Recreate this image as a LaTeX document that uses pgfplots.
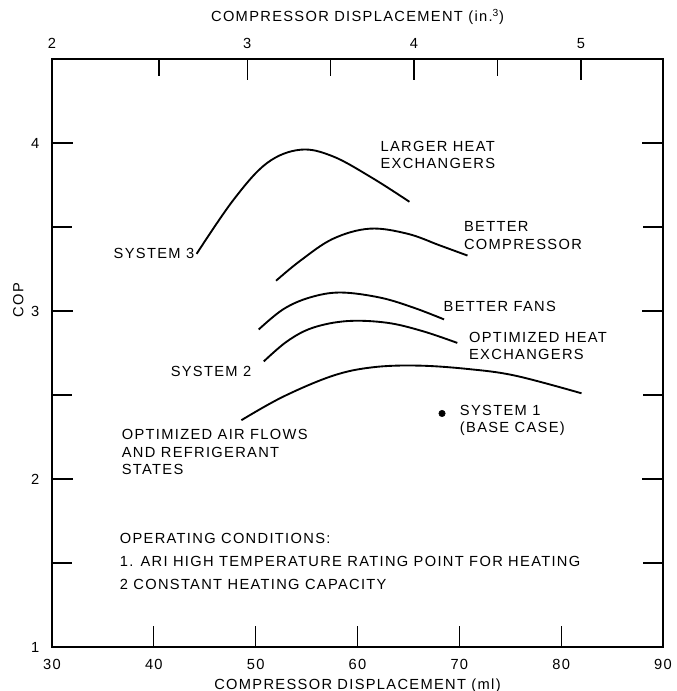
\documentclass[border=0pt]{standalone}
\usepackage{fontspec}
\setmainfont[LetterSpace=9]{Liberation Sans}
\usepackage{pgfplots}
\pgfplotsset{compat=1.18}
\begin{document}
\begin{tikzpicture}[font=\fontsize{11}{13}\selectfont]
\begin{axis}[
  scale only axis, width=458.25pt, height=441pt,
  xmin=30, xmax=90, ymin=1, ymax=4.5,
  axis line style={line width=1.2pt},
  xtick={30,40,50,60,70,80,90},
  xtick pos=bottom,
  ytick={1,2,3,4}, minor ytick={1.5,2.5,3.5,4},
  ytick pos=both, yticklabel pos=left,
  tick align=inside,
  major tick length=16pt, minor tick length=15pt,
  tick style={line width=0.9pt, black},
  /pgf/number format/assume math mode=true,
  xticklabel style={yshift=-6pt},
  yticklabel style={xshift=-6pt},
  xlabel={COMPRESSOR DISPLACEMENT (ml)},
  xlabel style={at={(axis description cs:0.5,-0.066)}, anchor=center},
  ylabel={COP},
  ylabel style={at={(axis description cs:-0.055,0.59)}, anchor=center},
  clip=false,
]
% System 3 -> larger heat exchangers
\addplot[black, line width=1.4pt, smooth, tension=0.6] coordinates {
 (44.2,3.34) (47.8,3.66) (51.1,3.88) (54.4,3.96) (57.6,3.92) (61.5,3.79) (65.1,3.65)};
% Better compressor
\addplot[black, line width=1.4pt, smooth, tension=0.6] coordinates {
 (52.0,3.18) (54.4,3.30) (57.6,3.43) (61.2,3.49) (64.9,3.46) (68.1,3.39) (70.8,3.33)};
% Better fans
\addplot[black, line width=1.4pt, smooth, tension=0.6] coordinates {
 (50.3,2.89) (52.7,3.01) (55.3,3.08) (58.3,3.11) (62.2,3.08) (65.5,3.02) (68.5,2.95)};
% Optimized heat exchangers (System 2)
\addplot[black, line width=1.4pt, smooth, tension=0.6] coordinates {
 (50.8,2.70) (53.1,2.82) (55.6,2.90) (59.0,2.94) (62.9,2.93) (66.4,2.88) (69.8,2.81)};
% Optimized air flows and refrigerant states
\addplot[black, line width=1.4pt, smooth, tension=0.6] coordinates {
 (48.6,2.35) (52.7,2.49) (57.6,2.615) (61.5,2.665) (65.9,2.675) (70.8,2.655) (75.5,2.615) (82.0,2.51)};
% System 1 (base case)
\addplot[only marks, mark=*, mark size=2.4pt, black] coordinates {(68.3,2.39)};

\node[anchor=west, align=left] at (axis cs:61.8,3.93) {LARGER HEAT\\EXCHANGERS};
\node[anchor=west, align=left] at (axis cs:70.0,3.45) {BETTER\\COMPRESSOR};
\node[anchor=west, align=left] at (axis cs:68.0,3.03) {BETTER FANS};
\node[anchor=west, align=left] at (axis cs:70.5,2.79) {OPTIMIZED HEAT\\EXCHANGERS};
\node[anchor=west, align=left] at (axis cs:35.6,3.34) {SYSTEM 3};
\node[anchor=west, align=left] at (axis cs:41.2,2.64) {SYSTEM 2};
\node[anchor=west, align=left] at (axis cs:36.4,2.16) {OPTIMIZED AIR FLOWS\\AND REFRIGERANT\\STATES};
\node[anchor=west, align=left] at (axis cs:69.6,2.35) {SYSTEM 1\\(BASE CASE)};
\node[anchor=west, align=left] at (axis cs:36.2,1.51) {OPERATING CONDITIONS:\\[4pt]1. ARI HIGH TEMPERATURE RATING POINT FOR HEATING\\[4pt]2 CONSTANT HEATING CAPACITY};
\end{axis}
\begin{axis}[
  scale only axis, width=458.25pt, height=441pt,
  xmin=30, xmax=90, ymin=1, ymax=4.5,
  axis x line*=top, hide y axis,
  axis line style={line width=1.2pt},
  xtick={30,49.16,65.55,81.94},
  xticklabels={2,3,4,5},
  minor xtick={40.5,57.35,73.74},
  tick align=inside,
  major tick length=16pt, minor tick length=13pt,
  tick style={line width=0.9pt, black},
  xticklabel style={yshift=4pt},
  xlabel={COMPRESSOR DISPLACEMENT (in.\textsuperscript{3})},
  xlabel style={at={(axis description cs:0.5,1.072)}, anchor=center},
]
\addplot[draw=none] coordinates {(30,1) (90,4.5)};
\end{axis}
\pgfresetboundingbox
\useasboundingbox (-39pt,-33pt) rectangle (468pt,485.25pt);
\end{tikzpicture}
\end{document}
